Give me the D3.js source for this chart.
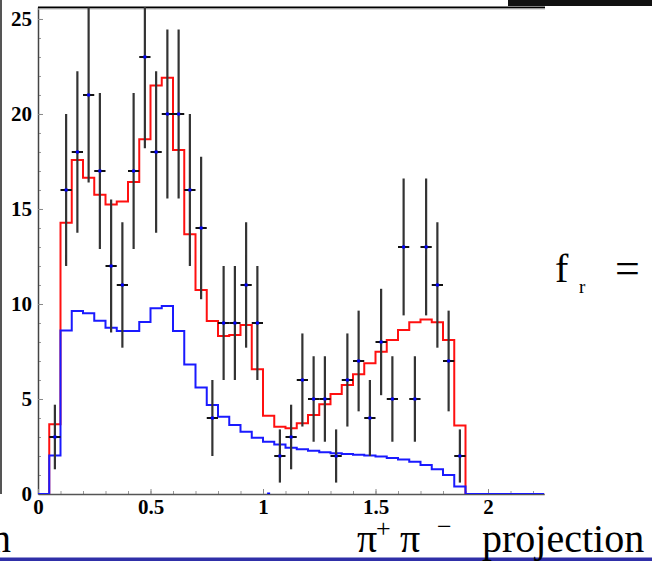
<!DOCTYPE html>
<html>
<head>
<meta charset="utf-8">
<script src="https://cdn.jsdelivr.net/npm/d3@7"></script>
<style>
    body { margin: 0; background: #fff; }
    svg { display: block; }
    .tick text { font-family: "Liberation Serif", "DejaVu Serif", serif; font-weight: bold; font-size: 21px; fill: #000; }
    .serif { font-family: "Liberation Serif", "DejaVu Serif", serif; fill: #000; }
</style>
</head>
<body>
<svg id="chart" width="652" height="561"></svg>
<script>
// histogram binning: 45 bins of 0.05 from 0 to 2.25
const binEdges = d3.range(0, 46).map(i => +(i * 0.05).toFixed(2));

// fit total (red)
const fitTotal = [0, 3.67, 14.28, 17.58, 16.65, 15.75, 15.23, 15.39, 16.42, 18.67,
    21.5, 21.9, 18.1, 13.67, 10.74, 9.1, 8.32, 8.37, 8.9, 6.56,
    4.12, 3.54, 3.46, 3.72, 4.16, 4.72, 5.26, 5.74, 6.3, 6.88,
    7.49, 8.1, 8.63, 9.04, 9.19, 9.04, 8.1, 3.6, 0, 0,
    0, 0, 0, 0, 0];

// background component (blue)
const fitBackground = [0, 2.02, 8.61, 9.63, 9.51, 9.12, 8.75, 8.58, 8.58, 9.05,
    9.77, 9.89, 8.58, 6.82, 5.6, 4.68, 4.07, 3.63, 3.28, 2.96,
    2.75, 2.61, 2.44, 2.35, 2.28, 2.2, 2.14, 2.1, 2.06, 2.02,
    1.97, 1.9, 1.82, 1.7, 1.53, 1.3, 1.0, 0.39, 0, 0,
    0, 0, 0, 0, 0];

// data counts (null = not drawn) and their error bars
const counts = [null, 3, 16, 18, 21, 17, 12, 11, 17, 23,
    18, 20, 20, 16, 14, 4, 9, 9, 11, 9,
    0, 2, 3, 6, 5, 5, 2, 6, 7, 4,
    8, 5, 13, 5, 13, 11, 7, 2];
const errors = [0, 1.7, 4.0, 4.25, 4.6, 4.1, 3.5, 3.3, 4.1, 4.8,
    4.25, 4.45, 4.45, 4.0, 3.75, 2.0, 3.0, 3.0, 3.3, 3.0,
    0, 1.4, 1.7, 2.45, 2.25, 2.25, 1.4, 2.45, 2.65, 2.0,
    2.8, 2.25, 3.6, 2.25, 3.6, 3.3, 2.65, 1.4];

const xMajorTicks = [0, 0.5, 1, 1.5, 2];
const yMajorTicks = [0, 5, 10, 15, 20, 25];

const plot = { left: 38, right: 544.25, top: 7, bottom: 494 };

const svg = d3.select("#chart");

const x = d3.scaleLinear().domain([0, 2.25]).range([plot.left, plot.right]);
const y = d3.scaleLinear().domain([0, 25.63]).range([plot.bottom, plot.top]);

// clip so error bars stop at the top frame
svg.append("clipPath").attr("id", "plotClip")
    .append("rect")
    .attr("x", plot.left).attr("y", plot.top)
    .attr("width", plot.right - plot.left).attr("height", plot.bottom - plot.top);

// outer slide bits
svg.append("rect").attr("x", 0).attr("y", 0).attr("width", 2).attr("height", 494).attr("fill", "#555");
svg.append("rect").attr("x", 508).attr("y", 0).attr("width", 144).attr("height", 6).attr("fill", "#111");
svg.append("rect").attr("x", 0).attr("y", 557.5).attr("width", 652).attr("height", 3.5).attr("fill", "#2f2fa8");

// minor ticks
svg.append("g")
    .attr("transform", `translate(${plot.left},0)`)
    .call(d3.axisLeft(y).tickValues(d3.range(0, 26)).tickSize(-3).tickSizeOuter(0).tickFormat(""))
    .call(g => g.select(".domain").remove())
    .call(g => g.selectAll("line").attr("stroke", "#999"));

svg.append("g")
    .attr("transform", `translate(0,${plot.bottom})`)
    .call(d3.axisBottom(x).tickValues(d3.range(0, 23).map(i => i / 10)).tickSize(-3).tickSizeOuter(0).tickFormat(""))
    .call(g => g.select(".domain").remove())
    .call(g => g.selectAll("line").attr("stroke", "#999"));

// major axes
svg.append("g")
    .attr("transform", `translate(${plot.left},0)`)
    .call(d3.axisLeft(y).tickValues(yMajorTicks).tickSize(-5).tickSizeOuter(0).tickPadding(6).tickFormat(d => String(d)))
    .call(g => g.select(".domain").attr("stroke", "#444").attr("stroke-width", 1.5))
    .call(g => g.selectAll(".tick line").attr("stroke", "#888"));

svg.append("g")
    .attr("transform", `translate(0,${plot.bottom})`)
    .call(d3.axisBottom(x).tickValues(xMajorTicks).tickSize(-5).tickSizeOuter(0).tickPadding(5).tickFormat(d => String(d)))
    .call(g => g.select(".domain").attr("stroke", "#555").attr("stroke-width", 1.5))
    .call(g => g.selectAll(".tick line").attr("stroke", "#888"));

// top frame
svg.append("line")
    .attr("x1", plot.left).attr("x2", 545).attr("y1", 7.5).attr("y2", 7.5)
    .attr("stroke", "#000").attr("stroke-width", 2);
svg.append("line")
    .attr("x1", plot.left).attr("x2", 545).attr("y1", 9).attr("y2", 9)
    .attr("stroke", "#bbb").attr("stroke-width", 1);

// step histogram points: one per bin edge
const stepPoints = values => values.map((v, i) => [binEdges[i], v])
    .concat([[binEdges[values.length], values[values.length - 1]]]);

const stepLine = d3.line()
    .x(d => x(d[0]))
    .y(d => y(d[1]))
    .curve(d3.curveStepAfter);

const histGroup = svg.append("g").attr("clip-path", "url(#plotClip)");

histGroup.append("path")
    .attr("d", stepLine(stepPoints(fitTotal)))
    .attr("fill", "none")
    .attr("stroke", "#ff1010")
    .attr("stroke-width", 2);

histGroup.append("path")
    .attr("d", stepLine(stepPoints(fitBackground)))
    .attr("fill", "none")
    .attr("stroke", "#1a1aff")
    .attr("stroke-width", 2);

// data points with error bars
const points = counts
    .map((c, i) => ({ c: c, e: errors[i], lo: binEdges[i], hi: binEdges[i + 1] }))
    .filter(d => d.c !== null);

const pts = histGroup.append("g").selectAll("g")
    .data(points)
    .enter().append("g");

pts.filter(d => d.e > 0).append("line")
    .attr("x1", d => x((d.lo + d.hi) / 2))
    .attr("x2", d => x((d.lo + d.hi) / 2))
    .attr("y1", d => y(d.c - d.e))
    .attr("y2", d => y(d.c + d.e))
    .attr("stroke", "#333")
    .attr("stroke-width", 2.2);

pts.filter(d => d.c > 0).append("line")
    .attr("x1", d => x(d.lo))
    .attr("x2", d => x(d.hi))
    .attr("y1", d => y(d.c))
    .attr("y2", d => y(d.c))
    .attr("stroke", "#111")
    .attr("stroke-width", 2);

pts.append("rect")
    .attr("x", d => x((d.lo + d.hi) / 2) - 1.5)
    .attr("y", d => y(d.c) - 1.5)
    .attr("width", 3)
    .attr("height", 3)
    .attr("fill", "#0000ff");

// slide text around the plot
const fr = svg.append("g").attr("class", "serif");
fr.append("text").attr("x", 555).attr("y", 282).attr("font-size", 40).text("f");
fr.append("text").attr("x", 579).attr("y", 293).attr("font-size", 19).text("r");
fr.append("text").attr("x", 615).attr("y", 283).attr("font-size", 44).text("=");

const proj = svg.append("g").attr("class", "serif");
proj.append("text").attr("x", 357).attr("y", 552).attr("font-size", 40).text("π");
proj.append("text").attr("x", 376).attr("y", 537).attr("font-size", 26).text("+");
proj.append("text").attr("x", 400).attr("y", 552).attr("font-size", 40).text("π");
proj.append("text").attr("x", 437).attr("y", 535).attr("font-size", 26).text("−");
proj.append("text").attr("x", 482).attr("y", 552).attr("font-size", 40).text("projection");
proj.append("text").attr("x", 11).attr("y", 552).attr("font-size", 40).attr("text-anchor", "end").text("n");
</script>
</body>
</html>
